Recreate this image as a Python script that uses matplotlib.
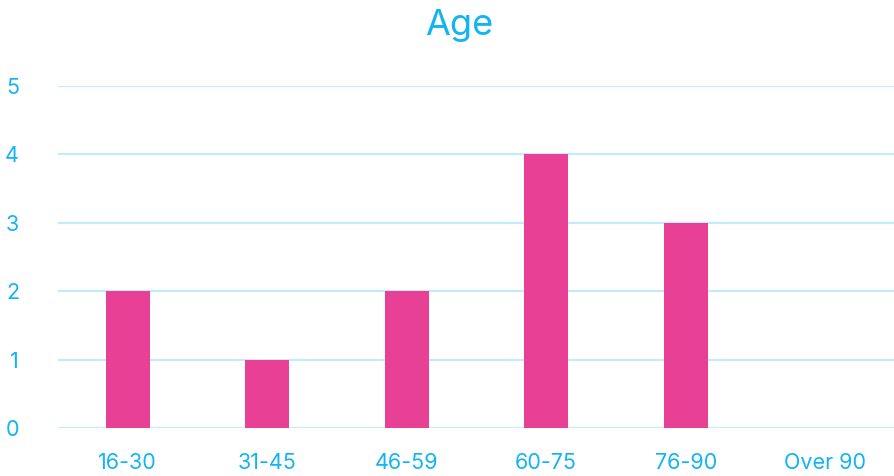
import matplotlib.pyplot as plt
import numpy as np

categories = ['16-30', '31-45', '46-59', '60-75', '76-90', 'Over 90']
counts = [2, 1, 2, 4, 3, 0]
yticks = [0, 1, 2, 3, 4, 5]

text_color = '#12b4f4'
bar_color = '#e84095'
grid_color = '#c4eafb'

plt.rcParams['font.family'] = ['Inter', 'DejaVu Sans']

fig = plt.figure(figsize=(8.95, 4.76), dpi=100)
ax = fig.add_axes([58 / 895, 48 / 476, 837 / 895, 342 / 476])

x = np.arange(len(categories))
ax.bar(x, counts, width=0.315, color=bar_color, zorder=3)

ax.set_xlim(-0.5, len(categories) - 0.5)
ax.set_ylim(0, 5)
ax.set_yticks(yticks)
ax.set_xticks(x)
ax.set_xticklabels(categories)
ax.grid(axis='y', color=grid_color, linewidth=1.6, zorder=0)
ax.set_axisbelow(True)
for s in ax.spines.values():
    s.set_visible(False)
ax.tick_params(axis='both', length=0, labelsize=15.5, labelcolor=text_color)
ax.tick_params(axis='x', pad=18)
ax.tick_params(axis='y', pad=28)

fig.text(0.513, 1 - 26 / 476, 'Age', ha='center', va='center',
         fontsize=26, color=text_color)

fig.savefig('out.png', dpi=100)
